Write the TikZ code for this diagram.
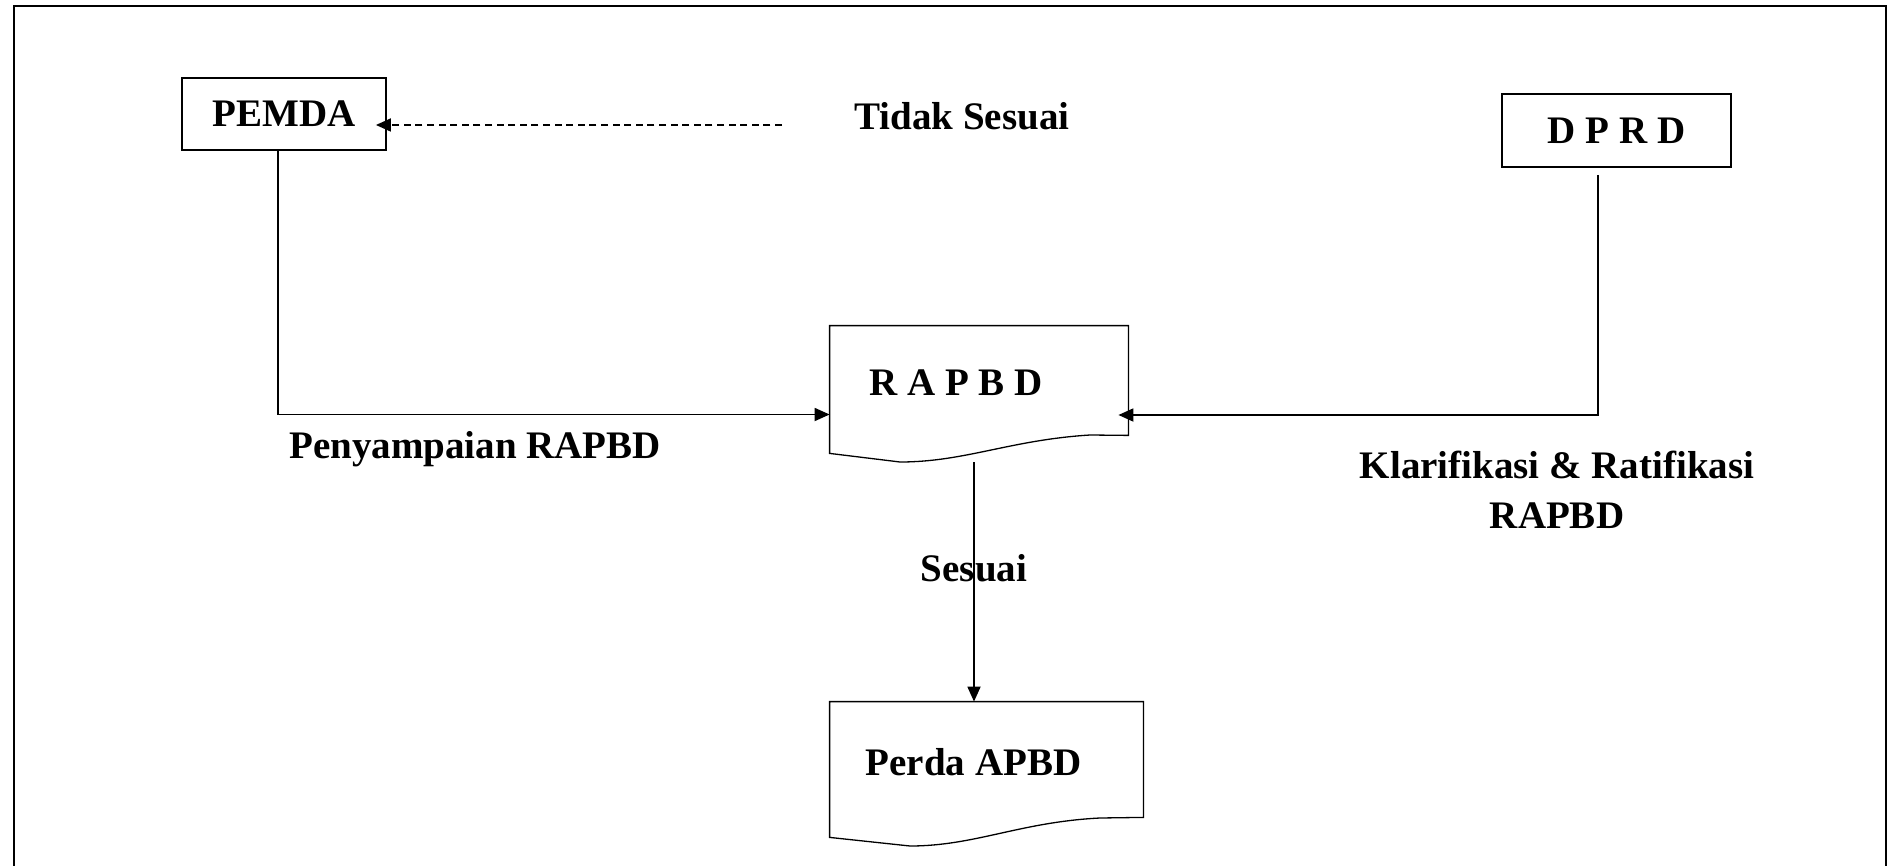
\documentclass[tikz,border=0pt]{standalone}
\usepackage{fontspec}
\setmainfont{Liberation Serif}
\usetikzlibrary{arrows.meta}
\begin{document}
\begin{tikzpicture}[x=0.5pt,y=-0.5pt,
  lbl/.style={font=\fontsize{19.5}{23}\selectfont\bfseries, inner sep=0pt, align=center},
  boxnode/.style={draw, line width=0.9pt, inner sep=0pt, font=\fontsize{19.5}{23}\selectfont\bfseries},
  docnode/.style={inner sep=0pt, draw=none},
  docline/.style={line width=0.65pt},
  conn/.style={line width=0.9pt},
  arr/.style={conn, -{Triangle[length=7.5pt,width=6.5pt]}},
  dasharr/.style={arr, dash pattern=on 3.5pt off 2.3pt}]
\useasboundingbox (0,0) rectangle (1895,866);
% outer frame
\draw[line width=1.1pt] (14,866) -- (14,6) -- (1886,6) -- (1886,866);

% nodes
\node[boxnode, minimum width=102pt, minimum height=36pt] (pemda) at (284,114) {PEMDA};
\node[boxnode, minimum width=114.5pt, minimum height=36.5pt] (dprd) at (1616.5,130.5) {D P R D};
\node[docnode, minimum width=149pt, minimum height=63.5pt] (rapbd) at (979,389.5) {};
\node[docnode, minimum width=156.5pt, minimum height=67.5pt] (perda) at (986.5,769.5) {};

% document shapes
\draw[docline] (rapbd.south west) -- (rapbd.north west) -- (rapbd.north east) -- ([yshift=9pt]rapbd.south east)
  -- (1090,435) .. controls (1010,440) and (965,462) .. (900,462) -- cycle;
\draw[docline] (perda.south west) -- (perda.north west) -- (perda.north east) -- ([yshift=10pt]perda.south east)
  -- (1100,818) .. controls (1020,822) and (975,846) .. (910,846) -- cycle;

% texts
\node[lbl] (rapbdtxt) at (956,383) {R A P B D};
\node[lbl] (perdatxt) at (973.5,762) {Perda APBD};
\node[lbl] (tidak) at (962,116) {Tidak Sesuai};
\node[lbl] (penyampaian) at (475,449) {Penyampaian RAPBD};
\node[lbl] (klarifikasi) at (1557,490) {Klarifikasi \& Ratifikasi\\[2pt]RAPBD};
\node[lbl] (sesuai) at (974,568) {Sesuai};

% connectors
\coordinate (dashstart) at (782,125);
\draw[dasharr, shorten >=-5.5pt] (dashstart) -- (pemda.east |- dashstart);
\draw[arr] ([xshift=-3pt]pemda.south) |- ([yshift=-12.5pt]rapbd.west);
\draw[arr] ([xshift=-9.25pt,yshift=-3.5pt]dprd.south) |- ([xshift=-5pt,yshift=-12.75pt]rapbd.east);
\draw[arr] ([xshift=-2.5pt,yshift=-4.5pt]rapbd.south) -- ([xshift=-6.25pt]perda.north);
\end{tikzpicture}
\end{document}
